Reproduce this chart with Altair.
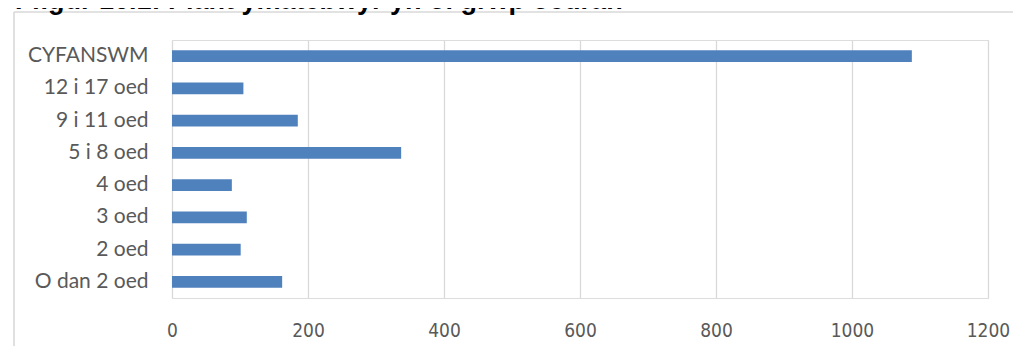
import altair as alt
import pandas as pd

title_text = "Ffigur 16.1: Plant ymatebwyr yn ôl grŵp oedran"
categories = ["CYFANSWM", "12 i 17 oed", "9 i 11 oed", "5 i 8 oed",
              "4 oed", "3 oed", "2 oed", "O dan 2 oed"]
values = [1088, 105, 185, 337, 88, 110, 101, 162]
x_ticks = [0, 200, 400, 600, 800, 1000, 1200]

df = pd.DataFrame({"group": categories, "count": values})

PLOT_W = 816
PLOT_H = 258
GRID = "#d9d9d9"
LABEL = "#595959"

bars = alt.Chart(df).mark_bar(color="#4f81bd").encode(
    x=alt.X("count:Q",
            scale=alt.Scale(domain=[0, 1200], nice=False, zero=True),
            axis=alt.Axis(values=x_ticks, title=None, grid=True, gridColor=GRID,
                          gridWidth=1.3, domain=False, ticks=False, format="d",
                          labelFlush=False, labelOverlap=False,
                          labelColor=LABEL, labelFontSize=19,
                          labelFont="Liberation Sans Narrow, DejaVu Sans Condensed",
                          labelPadding=23)),
    y=alt.Y("group:N", sort=categories,
            scale=alt.Scale(paddingInner=0.63, paddingOuter=0.315),
            axis=alt.Axis(title=None, domain=False, ticks=False, grid=False,
                          labelColor=LABEL, labelFontSize=21, labelFont="Lato",
                          labelPadding=24)),
)

frame_src = pd.DataFrame({"k": [0]})
left_line = alt.Chart(frame_src).mark_rule(color=GRID, strokeWidth=1.6).encode(
    x=alt.value(-158), y=alt.value(-28), y2=alt.value(320))
top_line = alt.Chart(frame_src).mark_rule(color=GRID, strokeWidth=1.6).encode(
    x=alt.value(-158), x2=alt.value(860), y=alt.value(-28))

title_df = pd.DataFrame({"t": [title_text]})
title = alt.Chart(title_df).mark_text(
    align="left", baseline="alphabetic", font="Liberation Sans",
    fontWeight="bold", fontSize=27, color="#000000").encode(
    text="t:N", x=alt.value(-157), y=alt.value(-31))

chart = alt.layer(left_line, top_line, bars, title).properties(
    width=PLOT_W, height=PLOT_H,
    autosize=alt.AutoSizeParams(type="none"),
    padding={"left": 164, "top": 32, "right": 25, "bottom": 48},
).configure_view(stroke="transparent", strokeWidth=0).configure(background="white")

chart.save("out.html", embed_options={"renderer": "svg", "actions": False})
